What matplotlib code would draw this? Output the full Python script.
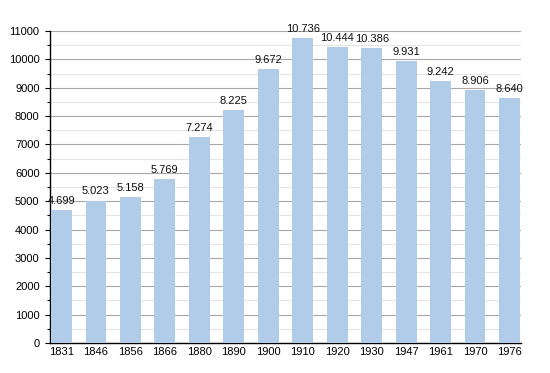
import matplotlib
matplotlib.use("Agg")
import matplotlib.pyplot as plt
from matplotlib.ticker import MultipleLocator

years = ["1831", "1846", "1856", "1866", "1880", "1890", "1900", "1910", "1920", "1930", "1947", "1961", "1970", "1976"]
population = [4699, 5023, 5158, 5769, 7274, 8225, 9672, 10736, 10444, 10386, 9931, 9242, 8906, 8640]
value_labels = ["4.699", "5.023", "5.158", "5.769", "7.274", "8.225", "9.672", "10.736", "10.444", "10.386", "9.931", "9.242", "8.906", "8.640"]

plt.rcParams['font.family'] = ['Liberation Sans', 'DejaVu Sans']

fig = plt.figure(figsize=(5.5, 3.73), dpi=100)
ax = fig.add_axes([50/550, 1-343/373, 471/550, 312/373])

w = 0.6
x = list(range(len(years)))
ax.bar(x, population, width=w, color='#b1cce8', zorder=3)
for xi, v, lab in zip(x, population, value_labels):
    ax.annotate(lab, (xi, v), xytext=(0, 3), textcoords='offset points',
                ha='center', va='bottom', fontsize=8, color='#111111', zorder=4)

ax.set_xlim(-0.33, len(years) - 1 + 0.33)
ax.set_ylim(0, 11000)
ax.yaxis.set_major_locator(MultipleLocator(1000))
ax.yaxis.set_minor_locator(MultipleLocator(500))
ax.grid(axis='y', which='major', color='#a8a8a8', linewidth=0.8, zorder=0)
ax.grid(axis='y', which='minor', color='#e4e4e4', linewidth=0.8, zorder=0)
ax.set_xticks(x)
ax.set_xticklabels(years)
ax.tick_params(axis='x', length=0, labelsize=8, pad=3)
ax.tick_params(axis='y', which='major', length=3.5, width=0.8, labelsize=8, pad=4)
ax.tick_params(axis='y', which='minor', length=2.5, width=0.8)
for s in ['top', 'right']:
    ax.spines[s].set_visible(False)
ax.spines['left'].set_linewidth(1)
ax.spines['bottom'].set_linewidth(1)

fig.savefig("out.png", dpi=100)
